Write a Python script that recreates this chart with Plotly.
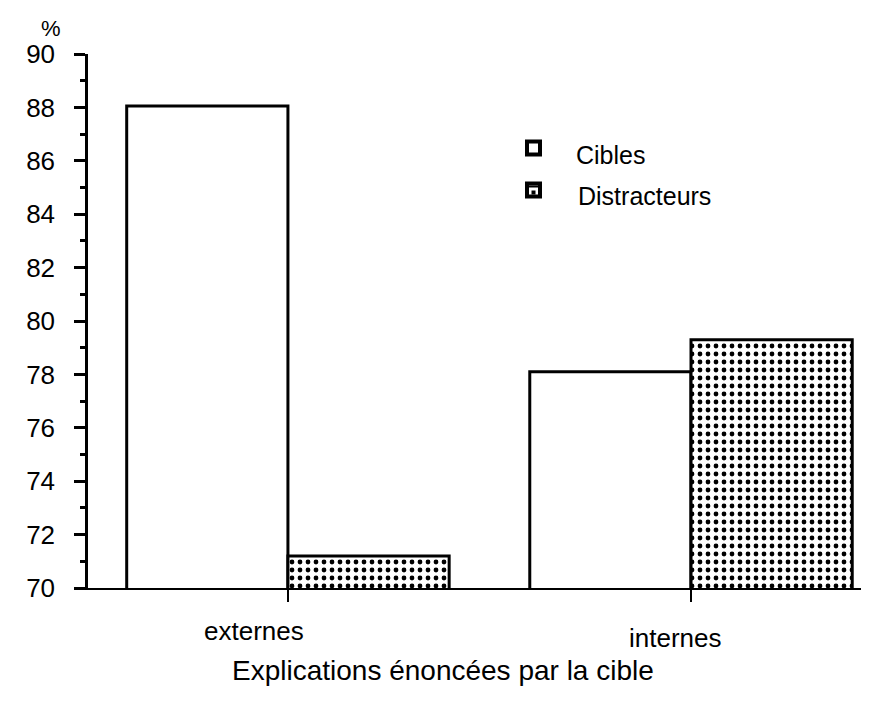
import plotly.graph_objects as go

categories = ["externes", "internes"]
cibles = [88.05, 78.1]
distracteurs = [71.2, 79.3]
series_names = ["Cibles", "Distracteurs"]
y_tick_values = [70, 72, 74, 76, 78, 80, 82, 84, 86, 88, 90]
y_unit = "%"
x_title = "Explications énoncées par la cible"

FONT = "Liberation Sans, Arial, sans-serif"
W, H = 869, 706
ML, MR, MT, MB = 80, 3, 46, 126
PW, PH = W - ML - MR, H - MT - MB


def px(xp):
    return (xp - ML) / PW


def py(yp):
    return (H - MB - yp) / PH


fig = go.Figure()
fig.add_trace(go.Bar(
    x=categories, y=cibles, name=series_names[0], showlegend=False,
    marker=dict(color="white", line=dict(color="black", width=3)),
))
fig.add_trace(go.Bar(
    x=categories, y=distracteurs, name=series_names[1], showlegend=False,
    marker=dict(color="white", line=dict(color="black", width=3),
                pattern=dict(shape=".", fgcolor="black", bgcolor="white",
                             size=8, solidity=0.28, fillmode="replace")),
))

# category labels (slightly offset as in the original)
label_shifts = [(-34, -43), (-16, -50)]
for cat, (xs, ys) in zip(categories, label_shifts):
    fig.add_annotation(x=cat, y=0, xref="x", yref="paper", text=cat,
                       showarrow=False, xshift=xs, yshift=ys, yanchor="middle",
                       font=dict(family=FONT, size=26, color="black"))

fig.add_annotation(x=px(435), y=py(662), xref="paper", yref="paper", text=x_title,
                   showarrow=False, xanchor="center", yanchor="middle",
                   font=dict(family=FONT, size=28, color="black"))

fig.add_annotation(x=px(43), y=py(20), xref="paper", yref="paper", text=y_unit,
                   showarrow=False, xanchor="center", yanchor="middle",
                   font=dict(family=FONT, size=22, color="black"))

# manual legend
legend_rows = [(140, 147, 566), (182, 188, 568)]
for i, (name, (sy, ty, tx)) in enumerate(zip(series_names, legend_rows)):
    fig.add_shape(type="rect", xref="paper", yref="paper",
                  x0=px(519), x1=px(532), y0=py(sy - 6.5), y1=py(sy + 6.5),
                  line=dict(color="black", width=4), fillcolor="white")
    if i == 1:
        fig.add_shape(type="rect", xref="paper", yref="paper",
                      x0=px(523.5), x1=px(527.5), y0=py(sy + 0.5), y1=py(sy + 4.5),
                      line=dict(width=0), fillcolor="black")
        fig.add_shape(type="rect", xref="paper", yref="paper",
                      x0=px(521), x1=px(530), y0=py(sy - 4.5), y1=py(sy - 2.5),
                      line=dict(width=0), fillcolor="black")
    fig.add_annotation(x=px(tx), y=py(ty), xref="paper", yref="paper", text=name,
                       showarrow=False, xanchor="left", yanchor="middle",
                       font=dict(family=FONT, size=25, color="black"))

fig.update_layout(
    width=W, height=H,
    margin=dict(l=ML, r=MR, t=MT, b=MB),
    paper_bgcolor="white", plot_bgcolor="white",
    barmode="group", bargap=0.2, bargroupgap=0,
    font=dict(family=FONT, size=22, color="black"),
    showlegend=False,
    xaxis=dict(range=[-0.496, 1.454], showline=True, linecolor="black", linewidth=2,
               ticks="outside", ticklen=12, tickwidth=2, tickcolor="black",
               showticklabels=False, showgrid=False, zeroline=False, fixedrange=True),
    yaxis=dict(range=[70, 90], tickvals=y_tick_values, showline=True,
               linecolor="black", linewidth=2.5, ticks="outside", ticklen=11,
               tickwidth=2.5, tickcolor="black", showgrid=False, zeroline=False,
               ticklabelstandoff=14,
               minor=dict(dtick=1, ticks="outside", ticklen=5, tickwidth=2.5,
                          tickcolor="black", showgrid=False),
               tickfont=dict(family=FONT, size=26, color="black")),
)

fig.write_html("out.html")
